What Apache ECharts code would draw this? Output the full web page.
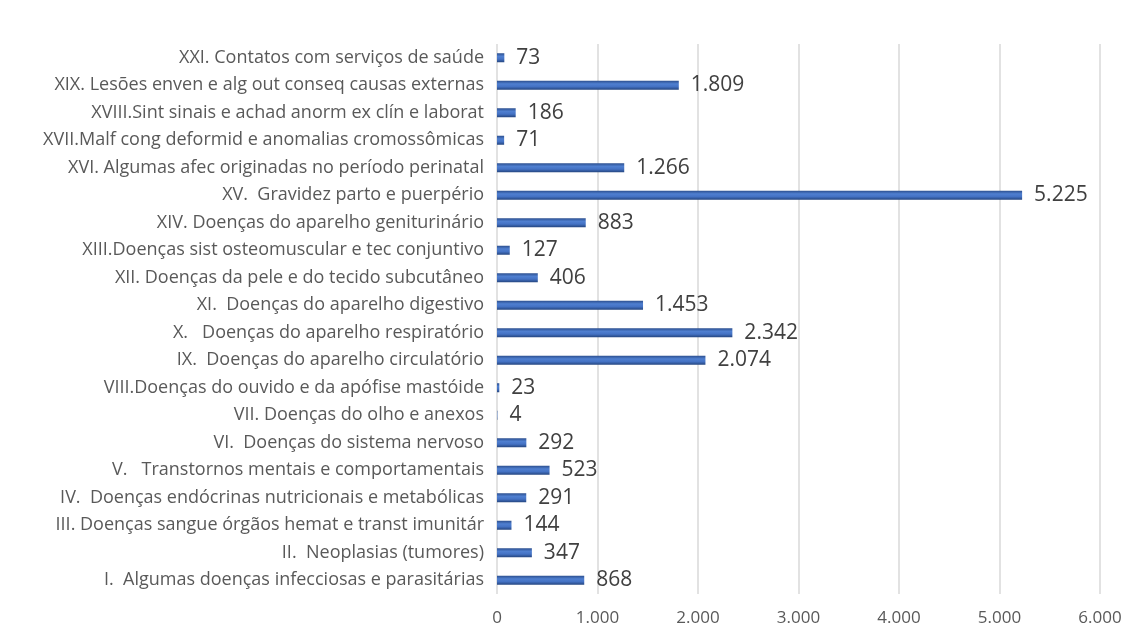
<!DOCTYPE html>
<html>
<head>
<meta charset="utf-8">
<script src="https://cdn.jsdelivr.net/npm/echarts@6/dist/echarts.min.js"></script>
<style>
  html, body { margin: 0; padding: 0; background: #fff; }
  #chart { width: 1127px; height: 631px; }
</style>
</head>
<body>
<div id="chart"></div>
<script>
// categorias (de baixo para cima, como no eixo)
const categories = [
  'I.  Algumas doenças infecciosas e parasitárias',
  'II.  Neoplasias (tumores)',
  'III. Doenças sangue órgãos hemat e transt imunitár',
  'IV.  Doenças endócrinas nutricionais e metabólicas',
  'V.   Transtornos mentais e comportamentais',
  'VI.  Doenças do sistema nervoso',
  'VII. Doenças do olho e anexos',
  'VIII.Doenças do ouvido e da apófise mastóide',
  'IX.  Doenças do aparelho circulatório',
  'X.   Doenças do aparelho respiratório',
  'XI.  Doenças do aparelho digestivo',
  'XII. Doenças da pele e do tecido subcutâneo',
  'XIII.Doenças sist osteomuscular e tec conjuntivo',
  'XIV. Doenças do aparelho geniturinário',
  'XV.  Gravidez parto e puerpério',
  'XVI. Algumas afec originadas no período perinatal',
  'XVII.Malf cong deformid e anomalias cromossômicas',
  'XVIII.Sint sinais e achad anorm ex clín e laborat',
  'XIX. Lesões enven e alg out conseq causas externas',
  'XXI. Contatos com serviços de saúde'
];
const values = [868, 347, 144, 291, 523, 292, 4, 23, 2074, 2342, 1453, 406, 127, 883, 5225, 1266, 71, 186, 1809, 73];
const xTicks = [0, 1000, 2000, 3000, 4000, 5000, 6000];

const fmt = v => String(v).replace(/\B(?=(\d{3})+(?!\d))/g, '.');

const chart = echarts.init(document.getElementById('chart'));
const option = {
  animation: false,
  textStyle: { fontFamily: 'Open Sans, sans-serif' },
  grid: { left: 497, right: 27, top: 44, bottom: 37, containLabel: false },
  xAxis: {
    type: 'value',
    min: xTicks[0],
    max: xTicks[xTicks.length - 1],
    interval: 1000,
    axisLine: { show: false },
    axisTick: { show: false },
    splitLine: { lineStyle: { color: '#d9d9d9', width: 1.5 } },
    axisLabel: { color: '#595959', fontSize: 17, margin: 16, formatter: fmt }
  },
  yAxis: {
    type: 'category',
    data: categories,
    axisLine: { show: false },
    axisTick: { show: false },
    axisLabel: { color: '#595959', fontSize: 18, margin: 13 }
  },
  series: [{
    type: 'bar',
    data: values,
    barWidth: 9,
    itemStyle: {
      color: new echarts.graphic.LinearGradient(0, 0, 0, 1, [
        { offset: 0, color: '#2c4f8f' },
        { offset: 0.35, color: '#4f7fd0' },
        { offset: 0.65, color: '#4472c4' },
        { offset: 1, color: '#24457f' }
      ])
    },
    label: {
      show: true,
      position: 'right',
      distance: 12,
      color: '#404040',
      fontSize: 21,
      formatter: p => fmt(p.value)
    }
  }]
};
chart.setOption(option);
</script>
</body>
</html>
